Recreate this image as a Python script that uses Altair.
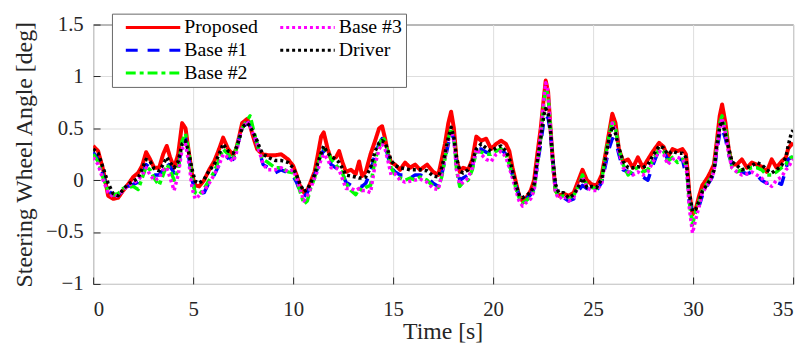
import altair as alt
import pandas as pd

# ---- data ----
time_s = [
    0.0, 0.25, 0.5, 0.75, 1.0, 1.25, 1.5, 1.75, 2.0, 2.25, 2.45, 2.65, 2.85, 3.05, 3.3, 3.5, 3.68, 3.85, 4.05, 4.25, 4.45, 4.62, 4.8, 4.95,
    5.1, 5.3, 5.55, 5.8, 6.05, 6.3, 6.5, 6.75, 7.0, 7.15, 7.3, 7.45, 7.7, 7.85, 8.0, 8.2, 8.35, 8.5, 8.75, 9.1, 9.4, 9.75,
    10.0, 10.17, 10.33, 10.54, 10.71, 10.87, 11.07, 11.24, 11.4, 11.53, 11.73, 11.9, 12.14, 12.3, 12.45, 12.64, 12.89, 13.13, 13.3, 13.45, 13.63, 13.87, 14.1, 14.3, 14.45, 14.6, 14.75, 14.9,
    15.1, 15.35, 15.6, 15.85, 16.1, 16.35, 16.7, 17.0, 17.26, 17.43, 17.59, 17.76, 17.9, 18.04, 18.17, 18.33, 18.5, 18.75, 18.96, 19.16, 19.4, 19.65, 19.9,
    20.15, 20.4, 20.64, 20.81, 20.97, 21.14, 21.3, 21.47, 21.63, 21.88, 22.05, 22.21, 22.38, 22.54, 22.63, 22.75, 22.87, 22.98, 23.12, 23.28, 23.53, 23.78, 24.03, 24.27, 24.47, 24.69, 24.93,
    25.18, 25.43, 25.59, 25.79, 25.96, 26.12, 26.29, 26.5, 26.75, 26.99, 27.24, 27.49, 27.74, 28.0, 28.3, 28.53, 28.73, 28.97, 29.22, 29.47, 29.64, 29.72, 29.8, 29.97,
    30.13, 30.3, 30.46, 30.71, 30.87, 31.04, 31.2, 31.33, 31.45, 31.62, 31.78, 31.94, 32.19, 32.44, 32.69, 32.94, 33.18, 33.43, 33.68, 33.93, 34.17, 34.42, 34.64, 34.75, 34.92, 35.0,
]

proposed = [
    0.33, 0.28, 0.1, -0.15, -0.18, -0.17, -0.1, -0.04, 0.03, 0.07, 0.14, 0.27, 0.2, 0.12, 0.12, 0.25, 0.33, 0.22, 0.12, 0.25, 0.55, 0.5, 0.25, 0.05,
    -0.05, -0.06, 0.0, 0.1, 0.18, 0.3, 0.41, 0.3, 0.24, 0.3, 0.42, 0.55, 0.59, 0.52, 0.42, 0.3, 0.27, 0.25, 0.24, 0.24, 0.25, 0.2,
    0.14, 0.05, -0.05, -0.12, -0.1, -0.02, 0.08, 0.25, 0.42, 0.46, 0.3, 0.2, 0.22, 0.28, 0.18, 0.08, 0.1, 0.06, 0.18, 0.04, 0.08, 0.25, 0.38, 0.5, 0.52, 0.4, 0.25, 0.17,
    0.15, 0.1, 0.17, 0.12, 0.15, 0.1, 0.15, 0.08, 0.05, 0.2, 0.35, 0.55, 0.66, 0.5, 0.2, 0.08, 0.12, 0.1, 0.2, 0.42, 0.38, 0.4, 0.3,
    0.35, 0.38, 0.35, 0.28, 0.12, -0.02, -0.15, -0.2, -0.18, -0.1, 0.0, 0.25, 0.5, 0.8, 0.96, 0.85, 0.5, 0.2, -0.1, -0.15, -0.13, -0.15, -0.12, 0.0, 0.1, 0.0, -0.04,
    -0.05, 0.05, 0.22, 0.45, 0.64, 0.55, 0.3, 0.18, 0.2, 0.12, 0.22, 0.12, 0.2, 0.28, 0.36, 0.32, 0.22, 0.3, 0.28, 0.3, 0.25, 0.1, -0.1, -0.33,
    -0.28, -0.15, -0.05, 0.02, 0.08, 0.15, 0.4, 0.62, 0.73, 0.55, 0.3, 0.15, 0.15, 0.2, 0.12, 0.17, 0.15, 0.13, 0.08, 0.2, 0.12, 0.18, 0.22, 0.3, 0.35, 0.33,
]

base1 = [
    0.27, 0.2, 0.05, -0.1, -0.14, -0.14, -0.1, -0.06, -0.04, -0.02, 0.05, 0.15, 0.12, 0.05, 0.05, 0.1, 0.17, 0.13, 0.07, 0.12, 0.35, 0.4, 0.2, 0.0,
    -0.1, -0.13, -0.12, -0.02, 0.05, 0.15, 0.17, 0.22, 0.2, 0.28, 0.4, 0.5, 0.55, 0.55, 0.45, 0.35, 0.25, 0.15, 0.12, 0.07, 0.1, 0.07,
    0.04, -0.02, -0.1, -0.16, -0.12, -0.05, 0.05, 0.12, 0.22, 0.3, 0.25, 0.15, 0.12, 0.1, 0.07, -0.02, -0.05, -0.04, -0.05, -0.06, -0.03, 0.08, 0.25, 0.35, 0.4, 0.35, 0.22, 0.12,
    0.08, 0.05, 0.05, 0.02, 0.05, 0.05, 0.03, -0.03, -0.06, 0.05, 0.2, 0.35, 0.45, 0.4, 0.15, 0.0, 0.02, 0.05, 0.12, 0.3, 0.3, 0.27, 0.25,
    0.25, 0.3, 0.25, 0.15, 0.05, -0.05, -0.15, -0.2, -0.18, -0.14, -0.08, 0.15, 0.35, 0.58, 0.62, 0.6, 0.45, 0.2, -0.08, -0.15, -0.17, -0.2, -0.18, -0.1, -0.05, -0.08, -0.1,
    -0.1, -0.02, 0.12, 0.3, 0.4, 0.38, 0.25, 0.1, 0.08, 0.06, 0.05, 0.03, 0.0, 0.15, 0.3, 0.28, 0.2, 0.22, 0.2, 0.2, 0.05, 0.02, -0.2, -0.3,
    -0.3, -0.25, -0.15, -0.05, 0.0, 0.06, 0.3, 0.45, 0.5, 0.4, 0.25, 0.15, 0.1, 0.08, 0.06, 0.08, 0.05, 0.0, -0.03, -0.02, -0.02, -0.04, 0.1, 0.2, 0.22, 0.2,
]

base2 = [
    0.25, 0.18, 0.02, -0.1, -0.14, -0.13, -0.08, -0.07, -0.06, -0.09, 0.02, 0.13, 0.1, 0.02, -0.05, 0.05, 0.15, 0.1, 0.0, 0.1, 0.38, 0.45, 0.25, 0.02,
    -0.12, -0.14, -0.08, 0.0, 0.08, 0.2, 0.3, 0.25, 0.2, 0.3, 0.4, 0.5, 0.58, 0.62, 0.5, 0.35, 0.25, 0.2, 0.17, 0.12, 0.12, 0.08,
    0.07, 0.0, -0.1, -0.23, -0.2, -0.08, 0.02, 0.15, 0.25, 0.3, 0.28, 0.2, 0.15, 0.1, 0.08, -0.03, -0.1, -0.14, -0.08, -0.1, -0.07, -0.05, 0.2, 0.32, 0.42, 0.38, 0.25, 0.12,
    0.05, 0.02, 0.0, 0.02, 0.0, 0.03, 0.0, -0.06, -0.07, 0.03, 0.2, 0.4, 0.5, 0.42, 0.1, -0.06, -0.02, 0.0, 0.1, 0.28, 0.27, 0.25, 0.25,
    0.28, 0.3, 0.25, 0.15, 0.05, -0.08, -0.17, -0.22, -0.2, -0.16, -0.1, 0.15, 0.4, 0.75, 0.88, 0.82, 0.5, 0.15, -0.1, -0.16, -0.15, -0.17, -0.15, -0.05, 0.05, -0.05, -0.07,
    -0.08, 0.0, 0.2, 0.42, 0.58, 0.5, 0.3, 0.15, 0.05, 0.1, 0.12, 0.08, 0.1, 0.2, 0.3, 0.28, 0.18, 0.22, 0.17, 0.2, 0.15, 0.0, -0.2, -0.43,
    -0.3, -0.2, -0.1, -0.03, 0.02, 0.1, 0.35, 0.55, 0.62, 0.5, 0.3, 0.12, 0.08, 0.1, 0.1, 0.12, 0.12, 0.1, 0.05, 0.05, 0.08, 0.12, 0.15, 0.2, 0.22, 0.22,
]

base3 = [
    0.22, 0.15, 0.0, -0.12, -0.16, -0.15, -0.1, -0.05, -0.03, 0.0, 0.05, 0.12, 0.05, 0.0, 0.02, 0.1, 0.12, 0.02, -0.1, 0.05, 0.3, 0.35, 0.15, -0.08,
    -0.18, -0.15, -0.1, -0.03, 0.05, 0.15, 0.25, 0.22, 0.18, 0.25, 0.4, 0.5, 0.57, 0.52, 0.45, 0.35, 0.25, 0.15, 0.1, 0.1, 0.12, 0.08,
    0.1, 0.02, -0.08, -0.2, -0.15, -0.08, 0.02, 0.1, 0.2, 0.25, 0.2, 0.12, 0.12, 0.1, 0.02, -0.08, -0.08, -0.1, -0.08, -0.1, -0.1, -0.12, 0.15, 0.3, 0.35, 0.3, 0.18, 0.05,
    0.06, 0.0, -0.02, -0.01, 0.0, 0.01, -0.02, -0.08, -0.09, 0.05, 0.22, 0.38, 0.47, 0.38, 0.1, -0.04, -0.02, 0.02, 0.12, 0.3, 0.25, 0.2, 0.18,
    0.25, 0.28, 0.22, 0.12, 0.02, -0.1, -0.2, -0.25, -0.22, -0.18, -0.1, 0.15, 0.45, 0.8, 0.94, 0.85, 0.5, 0.15, -0.12, -0.18, -0.15, -0.2, -0.17, -0.05, 0.03, -0.07, -0.1,
    -0.1, -0.03, 0.15, 0.38, 0.55, 0.48, 0.28, 0.12, 0.08, 0.05, 0.08, 0.05, 0.08, 0.18, 0.28, 0.25, 0.15, 0.2, 0.22, 0.2, 0.15, 0.0, -0.25, -0.51,
    -0.38, -0.25, -0.12, -0.05, 0.0, 0.08, 0.32, 0.5, 0.6, 0.45, 0.25, 0.12, 0.08, 0.05, 0.06, 0.08, 0.05, 0.02, -0.03, -0.06, 0.0, 0.03, 0.1, 0.12, 0.18, 0.2,
]

driver = [
    0.3, 0.26, 0.12, -0.03, -0.13, -0.15, -0.09, -0.04, -0.01, 0.02, 0.11, 0.2, 0.18, 0.11, 0.09, 0.15, 0.22, 0.17, 0.12, 0.18, 0.35, 0.38, 0.25, 0.1,
    -0.01, -0.03, 0.01, 0.09, 0.15, 0.25, 0.35, 0.28, 0.26, 0.31, 0.39, 0.51, 0.55, 0.52, 0.46, 0.38, 0.3, 0.25, 0.22, 0.19, 0.19, 0.17,
    0.12, 0.05, -0.03, -0.11, -0.09, -0.03, 0.05, 0.17, 0.26, 0.33, 0.26, 0.23, 0.2, 0.17, 0.12, 0.05, 0.04, 0.03, 0.02, 0.02, 0.03, 0.12, 0.28, 0.36, 0.38, 0.36, 0.28, 0.19,
    0.14, 0.12, 0.11, 0.1, 0.1, 0.1, 0.09, 0.04, 0.03, 0.12, 0.25, 0.41, 0.51, 0.41, 0.22, 0.09, 0.07, 0.1, 0.18, 0.3, 0.35, 0.31, 0.28,
    0.31, 0.33, 0.28, 0.21, 0.09, -0.04, -0.14, -0.17, -0.15, -0.12, -0.04, 0.18, 0.4, 0.63, 0.69, 0.64, 0.47, 0.21, -0.04, -0.12, -0.12, -0.17, -0.14, -0.06, 0.02, -0.07, -0.06,
    -0.07, 0.01, 0.18, 0.39, 0.52, 0.45, 0.31, 0.18, 0.12, 0.12, 0.13, 0.12, 0.15, 0.24, 0.33, 0.31, 0.25, 0.28, 0.26, 0.26, 0.22, 0.05, -0.11, -0.3,
    -0.28, -0.2, -0.11, -0.04, 0.01, 0.09, 0.35, 0.51, 0.57, 0.44, 0.31, 0.18, 0.14, 0.1, 0.12, 0.14, 0.17, 0.15, 0.1, 0.07, 0.1, 0.14, 0.22, 0.33, 0.46, 0.48,
]

series_names = ["Proposed", "Base #1", "Base #2", "Base #3", "Driver"]
series_values = [proposed, base1, base2, base3, driver]
series_colors = ["#ff0000", "#0000ff", "#00ff00", "#ff00ff", "#000000"]
series_dash = [[1, 0], [12, 10], [10, 4, 4, 4], [3, 3], [3, 3]]
series_width = [4, 3.5, 3.5, 3.5, 3.5]

x_ticks = [0, 5, 10, 15, 20, 25, 30, 35]
y_ticks = [-1, -0.5, 0, 0.5, 1, 1.5]

for v in series_values:
    assert len(v) == len(time_s), (len(v), len(time_s))

rows = []
for name, vals in zip(series_names, series_values):
    for t, v in zip(time_s, vals):
        rows.append({"t": t, "v": v, "series": name})
df = pd.DataFrame(rows)

FONT = "Liberation Serif"
TICK_IN = 7  # inward tick length (axis shifted inside the plot by the same amount)

# long horizontal legend stroke that extends to the right of its nominal (small) symbol box
LEGEND_STROKE = "M0,0H11"

legend_kw = dict(
    orient="none", legendX=19, legendY=-11, columns=2, symbolType=LEGEND_STROKE,
    symbolSize=100, symbolStrokeWidth=3, labelFontSize=20, labelFont=FONT,
    labelFontWeight="normal", labelColor="#000000", fillColor="white",
    strokeColor="#666666", padding=4, rowPadding=3, columnPadding=12,
    labelOffset=49, labelLimit=300,
)

x_enc = alt.X("t:Q", scale=alt.Scale(domain=[0, 35], nice=False, zero=False),
              axis=alt.Axis(values=x_ticks, format="d", title="Time [s]",
                            offset=-TICK_IN, tickSize=TICK_IN,
                            titleX=353, titleY=48 + TICK_IN, titleBaseline="middle",
                            titleAlign="center", labelPadding=15))
y_enc = alt.Y("v:Q", scale=alt.Scale(domain=[-1, 1.5], nice=False, zero=False),
              axis=alt.Axis(values=y_ticks, format="~g", title="Steering Wheel Angle [deg]",
                            offset=-TICK_IN, tickSize=TICK_IN,
                            titleX=-69 - TICK_IN, titleY=131, titleAngle=270,
                            titleBaseline="middle", titleAlign="center", labelPadding=10))
color_enc = alt.Color("series:N",
                      scale=alt.Scale(domain=series_names, range=series_colors),
                      legend=alt.Legend(**legend_kw), title=None)
dash_enc = alt.StrokeDash("series:N",
                          scale=alt.Scale(domain=series_names, range=series_dash),
                          legend=alt.Legend(**legend_kw), title=None)

base = alt.Chart(df)
layers = []
for name, w in zip(series_names, series_width):
    layers.append(
        base.transform_filter(alt.datum.series == name)
        .mark_line(strokeWidth=w, strokeCap="butt", strokeJoin="round", clip=True)
        .encode(x=x_enc, y=y_enc, color=color_enc, strokeDash=dash_enc)
    )

chart = (
    alt.layer(*layers)
    .properties(width=707, height=262, autosize="none",
                padding={"left": 86, "top": 15, "right": 10, "bottom": 62})
    .configure_view(stroke="#262626", strokeWidth=1)
    .configure_axis(grid=True, gridColor="#dedede", gridWidth=1, domain=False,
                    tickColor="#262626", tickWidth=1,
                    labelFont=FONT, labelFontSize=21, labelColor="#262626",
                    titleFont=FONT, titleFontSize=24, titleFontWeight="normal",
                    titleColor="#262626")
)

chart.save("out.html", embed_options={"renderer": "svg", "actions": False})
